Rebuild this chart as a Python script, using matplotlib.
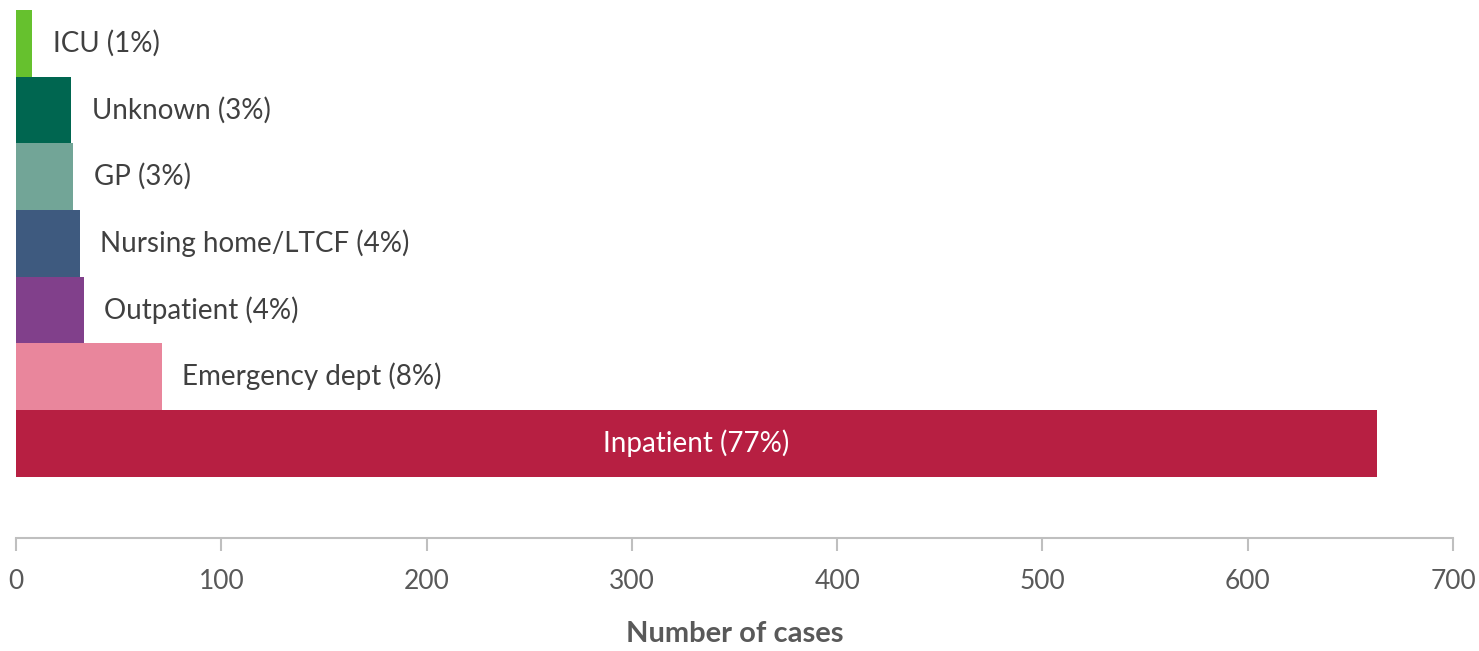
import matplotlib
matplotlib.use("Agg")
import matplotlib.pyplot as plt

# Data, top to bottom
settings = ["ICU", "Unknown", "GP", "Nursing home/LTCF",
            "Outpatient", "Emergency dept", "Inpatient"]
cases = [8, 27, 28, 31, 33, 71, 663]
percents = [1, 3, 3, 4, 4, 8, 77]
colors = ["#66c12e", "#006650", "#72a597", "#3e5a7f",
          "#81408b", "#e9869c", "#b71f42"]

plt.rcParams["font.family"] = ["Lato", "DejaVu Sans"]

fig = plt.figure(figsize=(14.79, 6.51), dpi=100)
ax = fig.add_axes([16 / 1479, 113 / 651, 1437 / 1479, 528 / 651])

n = len(settings)
ypos = [n - 1 - i for i in range(n)]

ax.barh(ypos, cases, height=1.0, color=colors, edgecolor="none")

for y, c, name, p in zip(ypos, cases, settings, percents):
    label = f"{name} ({p}%)"
    if name == "Inpatient":
        ax.text(c / 2, y, label, ha="center", va="center",
                color="white", fontsize=20)
    else:
        ax.text(c + 10, y, label, ha="left", va="center",
                color="#404040", fontsize=20)

ax.set_xlim(0, 700)
ax.set_ylim(-1.42, 6.5)
ax.set_xticks(range(0, 701, 100))
ax.set_yticks([])

for side in ["top", "right", "left"]:
    ax.spines[side].set_visible(False)
ax.spines["bottom"].set_color("#bfbfbf")
ax.spines["bottom"].set_linewidth(1.5)
ax.tick_params(axis="x", colors="#bfbfbf", length=9, width=1.5,
               labelcolor="#595959", labelsize=19, pad=13)

ax.set_xlabel("Number of cases", fontsize=21, fontweight="bold",
              color="#595959", labelpad=20)

fig.savefig("out.png", dpi=100)
